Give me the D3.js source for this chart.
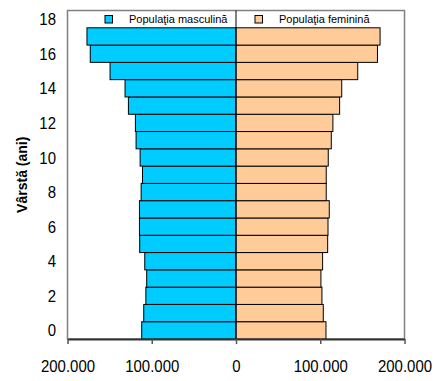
<!DOCTYPE html>
<html>
<head>
<meta charset="utf-8">
<script src="https://cdn.jsdelivr.net/npm/d3@7"></script>
<style>
  html, body { margin: 0; padding: 0; background: #fff; }
  svg { display: block; font-family: "Liberation Sans", Arial, sans-serif; }
</style>
</head>
<body>
<svg id="chart" width="435" height="381"></svg>
<script>
// Age categories (years) and population by sex for each age
const ages = d3.range(0, 19);
const male =   [111900, 109500, 107000, 106000, 108300, 114300, 114600, 114600, 112600,
                111000, 113800, 118600, 119400, 127700, 131700, 149500, 173000, 176900];
const female = [106800, 103600, 102000, 100800, 102800, 108800, 109200, 110700, 107100,
                107100, 109500, 113100, 115000, 123000, 125500, 144500, 167900, 171000];
const xTicks = [-200000, -100000, 0, 100000, 200000];
const yTickAges = [0, 2, 4, 6, 8, 10, 12, 14, 16, 18];
const seriesNames = ["Populaţia masculină", "Populaţia feminină"];
const seriesColors = ["#00CCFF", "#FFCC99"];

const svg = d3.select("#chart");
const plot = { left: 67.5, right: 404.5, top: 10.5, bottom: 339 };
const condense = 0.88; // horizontal squeeze of the tick label font

const x = d3.scaleLinear().domain([-200000, 200000]).range([plot.left, plot.right]);
const y = d3.scaleBand().domain(ages.slice().reverse()).range([plot.top, plot.bottom]).padding(0);

const ro = d3.formatLocale({ decimal: ",", thousands: ".", grouping: [3], currency: ["", ""] });
const fmt = ro.format(",");

// Plot area frame
svg.append("rect")
  .attr("x", plot.left).attr("y", plot.top)
  .attr("width", plot.right - plot.left).attr("height", plot.bottom - plot.top)
  .attr("fill", "none").attr("stroke", "#808080").attr("stroke-width", 1.5);

// Bars
const rows = male.map((m, i) => ({ age: ages[i], male: m, female: female[i] }));
svg.append("g").selectAll("rect").data(rows).join("rect")
  .attr("x", d => x(-d.male))
  .attr("y", d => y(d.age))
  .attr("width", d => x(0) - x(-d.male))
  .attr("height", y.bandwidth())
  .attr("fill", seriesColors[0]).attr("stroke", "#000").attr("stroke-width", 1);
svg.append("g").selectAll("rect").data(rows).join("rect")
  .attr("x", x(0))
  .attr("y", d => y(d.age))
  .attr("width", d => x(d.female) - x(0))
  .attr("height", y.bandwidth())
  .attr("fill", seriesColors[1]).attr("stroke", "#000").attr("stroke-width", 1);

// Vertical axis line at zero
svg.append("line")
  .attr("x1", x(0)).attr("x2", x(0))
  .attr("y1", plot.top).attr("y2", plot.bottom)
  .attr("stroke", "#000").attr("stroke-width", 1);

// X axis
const xAxis = svg.append("g")
  .attr("transform", `translate(0,${plot.bottom})`)
  .call(d3.axisBottom(x).tickValues(xTicks).tickSize(5).tickSizeOuter(0)
    .tickFormat(d => fmt(Math.abs(d))));
xAxis.select(".domain").attr("stroke", "#333").attr("stroke-width", 2);
xAxis.selectAll(".tick line").attr("stroke", "#555").attr("stroke-width", 1.5);
xAxis.selectAll(".tick text")
  .attr("font-size", 17).attr("fill", "#000")
  .attr("y", 21).attr("dy", "0.71em")
  .attr("transform", `scale(${condense},1)`)
  .style("font-family", "'Liberation Sans', Arial, sans-serif");

// Y tick labels (left of the plot)
svg.append("g").selectAll("text").data(yTickAges).join("text")
  .attr("transform", d => `translate(56,${y(d) + y.bandwidth() / 2}) scale(${condense},1)`)
  .attr("dy", "0.36em")
  .attr("text-anchor", "end")
  .attr("font-size", 17)
  .text(d => d);

// Y axis title
svg.append("text")
  .attr("transform", `translate(27,${(plot.top + plot.bottom) / 2}) rotate(-90)`)
  .attr("text-anchor", "middle")
  .attr("font-size", 14).attr("font-weight", "bold")
  .text("Vârstă (ani)");

// Legend
const legendX = [105, 255];
const legend = svg.append("g").selectAll("g").data(seriesNames).join("g")
  .attr("transform", (d, i) => `translate(${legendX[i]},15.5)`);
legend.append("rect")
  .attr("width", 7.5).attr("height", 7.5)
  .attr("fill", (d, i) => seriesColors[i])
  .attr("stroke", "#000").attr("stroke-width", 1);
legend.append("text")
  .attr("x", 24).attr("y", 7.8)
  .attr("font-size", 11)
  .text(d => d);
</script>
</body>
</html>
